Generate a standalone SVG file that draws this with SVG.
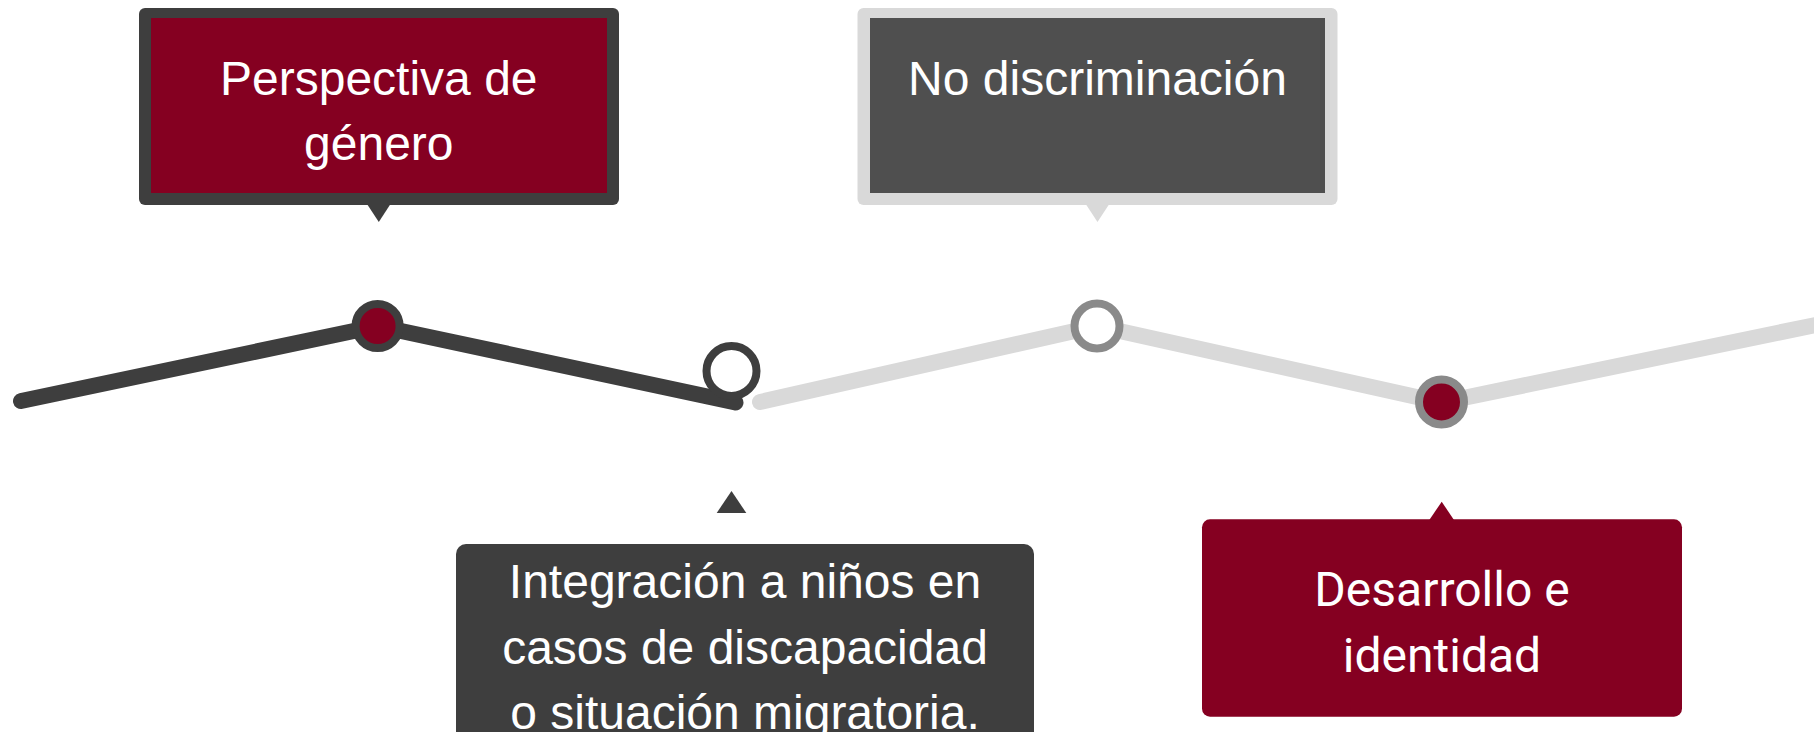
<svg xmlns="http://www.w3.org/2000/svg" width="1814" height="732" viewBox="0 0 1814 732">
<style>
.lbl{font-family:"Liberation Sans",Arial,sans-serif;font-size:48px;fill:#ffffff;text-anchor:middle}
.rob{font-family:Roboto,"Liberation Sans",sans-serif;font-size:48px;fill:#ffffff;text-anchor:middle}
.line{fill:none;stroke-width:16;stroke-linecap:round;stroke-linejoin:round}
.dot{stroke-width:8}
</style>
<rect x="0" y="0" width="1814" height="732" fill="#ffffff"/>
<g id="connectors">
<path class="line" stroke="#3e3e3e" d="M21 401 L377.6 326 L735.5 402.5"/>
<path class="line" stroke="#d9d9d9" d="M760 402 L1097 326 L1441.5 402.5 L1830 322"/>
</g>
<g id="dot1"><circle class="dot" cx="377.6" cy="326" r="22" fill="#850021" stroke="#3e3e3e"/></g>
<g id="dot2"><circle class="dot" cx="731.5" cy="371" r="25" fill="#ffffff" stroke="#3e3e3e"/></g>
<g id="dot3"><circle class="dot" cx="1097" cy="326" r="22.5" fill="#ffffff" stroke="#8a8a8a"/></g>
<g id="dot4"><circle class="dot" cx="1441.5" cy="402" r="22.5" fill="#850021" stroke="#8a8a8a"/></g>
<g id="perspectiva">
<rect x="139" y="8" width="480" height="197" rx="6" fill="#3e3e3e"/>
<polygon points="367,204 390.5,204 378.8,222" fill="#3e3e3e"/>
<rect x="151" y="18" width="456" height="175" fill="#850021"/>
<text class="lbl" x="378.8" y="95">Perspectiva de</text>
<text class="lbl" x="378.8" y="160">género</text>
</g>
<g id="nodiscriminacion">
<rect x="857.5" y="8" width="480" height="197" rx="6" fill="#d9d9d9"/>
<polygon points="1085.7,204 1109.3,204 1097.5,222" fill="#d9d9d9"/>
<rect x="870" y="18" width="455" height="175" fill="#4f4f4f"/>
<text class="lbl" x="1097.5" y="95">No discriminación</text>
</g>
<g id="integracion">
<polygon points="716.7,513 746.3,513 731.5,491" fill="#3e3e3e"/>
<rect x="456" y="544" width="578" height="220" rx="10" fill="#3e3e3e"/>
<text class="lbl" x="745" y="598">Integración a niños en</text>
<text class="lbl" x="745" y="664">casos de discapacidad</text>
<text class="lbl" x="745" y="729">o situación migratoria.</text>
</g>
<g id="desarrollo">
<polygon points="1429.3,520 1454,520 1441.7,501.7" fill="#850021"/>
<rect x="1202" y="519.3" width="480" height="197.4" rx="8" fill="#850021"/>
<text class="rob" x="1442" y="606">Desarrollo e</text>
<text class="rob" x="1442" y="672">identidad</text>
</g>
</svg>
